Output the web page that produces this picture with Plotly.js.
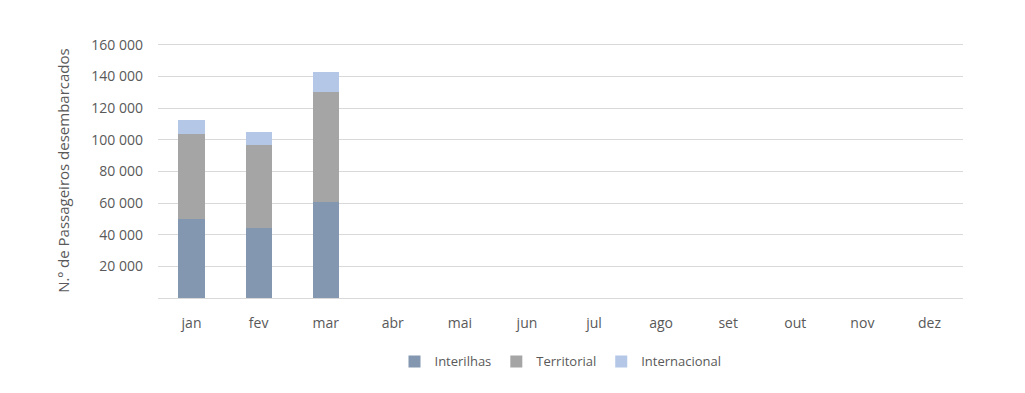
<!DOCTYPE html>
<html>
<head>
<meta charset="utf-8">
<script src="https://cdn.plot.ly/plotly-3.0.1.min.js"></script>
<style>html,body{margin:0;padding:0;background:#fff;}#chart{width:1025px;height:393px;}</style>
</head>
<body>
<div id="chart"></div>
<script>
const months = ["jan","fev","mar","abr","mai","jun","jul","ago","set","out","nov","dez"];
const interilhas = [50100, 44400, 60800, null, null, null, null, null, null, null, null, null];
const territorial = [53700, 52400, 69500, null, null, null, null, null, null, null, null, null];
const internacional = [8800, 8200, 12600, null, null, null, null, null, null, null, null, null];
const yTicks = [20000, 40000, 60000, 80000, 100000, 120000, 140000, 160000];
const yTickText = ["20 000","40 000","60 000","80 000","100 000","120 000","140 000","160 000"];

const font = "'Open Sans', 'DejaVu Sans', sans-serif";
const traces = [
  {name: "Interilhas", x: months, y: interilhas, type: "bar", marker: {color: "#8497B0"}},
  {name: "Territorial", x: months, y: territorial, type: "bar", marker: {color: "#A5A5A5"}},
  {name: "Internacional", x: months, y: internacional, type: "bar", marker: {color: "#B4C7E7"}}
];
const layout = {
  width: 1025, height: 393,
  barmode: "stack",
  bargap: 0.61,
  margin: {l: 158, r: 62, t: 43, b: 95},
  paper_bgcolor: "#fff", plot_bgcolor: "#fff",
  font: {family: font, color: "#595959", size: 13},
  showlegend: true,
  legend: {orientation: "h", x: 0.5, xanchor: "center", y: -0.19, yanchor: "top",
           font: {size: 13, color: "#595959"}, traceorder: "normal", itemwidth: 30},
  xaxis: {type: "category", categoryorder: "array", categoryarray: months,
          tickfont: {size: 14, color: "#595959"}, showline: true, linecolor: "#D9D9D9", linewidth: 1,
          showgrid: false, ticks: "", ticklabelstandoff: 12},
  yaxis: {range: [0, 161200], tickvals: yTicks, ticktext: yTickText,
          tickfont: {size: 14, color: "#595959"},
          gridcolor: "#D9D9D9", gridwidth: 1, zeroline: false, ticks: "", ticklabelstandoff: 14,
          title: {text: "N.º de Passageiros desembarcados", font: {size: 15, color: "#595959"}, standoff: 18}}
};
Plotly.newPlot("chart", traces, layout, {displayModeBar: false, staticPlot: true});
</script>
</body>
</html>
